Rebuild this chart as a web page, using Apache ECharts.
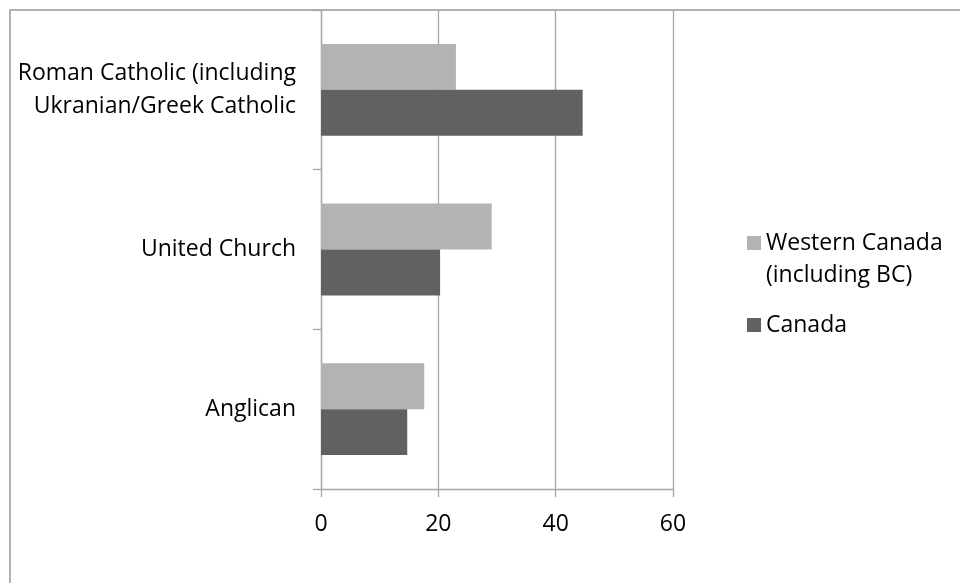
<!DOCTYPE html>
<html>
<head>
<meta charset="utf-8">
<script src="https://cdn.jsdelivr.net/npm/echarts@6/dist/echarts.min.js"></script>
<style>
html,body{margin:0;padding:0;background:#fff;}
#chart{width:960px;height:583px;}
</style>
</head>
<body>
<div id="chart"></div>
<script>
const categories = ['Roman Catholic (including\nUkranian/Greek Catholic', 'United Church', 'Anglican'];
const seriesNames = ['Western Canada (including BC)', 'Canada'];
const westernCanada = [23.0, 29.1, 17.6];
const canada = [44.6, 20.3, 14.7];
const xTicks = [0, 20, 40, 60];

const FONT = 'Open Sans';
const GRIDC = '#a6a6a6';
const chart = echarts.init(document.getElementById('chart'), null, {renderer: 'canvas'});
chart.setOption({
  animation: false,
  backgroundColor: '#ffffff',
  textStyle: {fontFamily: FONT},
  graphic: [{
    type: 'rect', z: -1, silent: true,
    shape: {x: 10, y: 10, width: 1200, height: 1200},
    style: {fill: 'none', stroke: '#b2b2b2', lineWidth: 2}
  }],
  grid: {left: 321, right: 287, top: 10, bottom: 94, containLabel: false},
  legend: {
    orient: 'vertical', left: 742, top: 190, itemGap: 18,
    itemWidth: 14, itemHeight: 14, icon: 'rect',
    data: seriesNames,
    formatter: function (n) { return n === seriesNames[0] ? '\nWestern Canada\n(including BC)' : n; },
    textStyle: {fontFamily: FONT, fontSize: 23, lineHeight: 32, color: '#000'}
  },
  xAxis: {
    type: 'value', min: xTicks[0], max: xTicks[xTicks.length - 1], interval: 20,
    axisLine: {show: true, lineStyle: {color: GRIDC, width: 1.3}},
    axisTick: {show: true, length: 8, lineStyle: {color: GRIDC, width: 1.3}},
    splitLine: {show: true, lineStyle: {color: GRIDC, width: 1.3}},
    axisLabel: {color: '#000', fontFamily: FONT, fontSize: 23, margin: 24}
  },
  yAxis: {
    type: 'category', inverse: true, data: categories,
    axisLine: {show: true, lineStyle: {color: GRIDC, width: 1.3}},
    axisTick: {show: true, length: 8, lineStyle: {color: GRIDC, width: 1.3}},
    axisLabel: {color: '#000', fontFamily: FONT, fontSize: 23, lineHeight: 33, margin: 25, align: 'right'}
  },
  series: [
    {name: seriesNames[0], type: 'bar', data: westernCanada, barGap: '0%', barCategoryGap: '42.5%',
     itemStyle: {color: '#b3b3b3'}},
    {name: seriesNames[1], type: 'bar', data: canada, barGap: '0%', barCategoryGap: '42.5%',
     itemStyle: {color: '#616161'}}
  ]
});
</script>
</body>
</html>
